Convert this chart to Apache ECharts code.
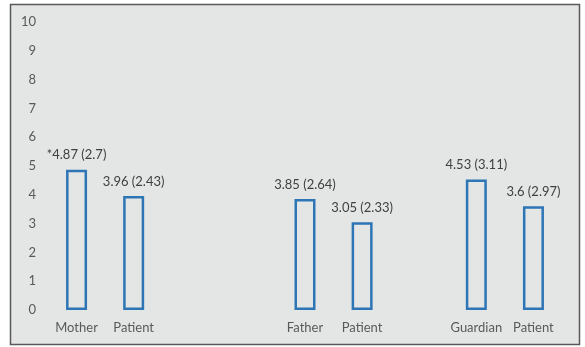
<!DOCTYPE html>
<html><head><meta charset="utf-8">
<script src="https://cdn.jsdelivr.net/npm/echarts@6/dist/echarts.min.js"></script>
<style>html,body{margin:0;padding:0;background:#fff}#c{width:585px;height:347px}</style>
</head><body><div id="c"></div>
<script>
var categories = ['Mother','Patient','','','Father','Patient','','Guardian','Patient'];
var means = [4.87, 3.96, null, null, 3.85, 3.05, null, 4.53, 3.6];
var sds = [2.7, 2.43, null, null, 2.64, 2.33, null, 3.11, 2.97];
var marks = ['*', '', '', '', '', '', '', '', ''];
var yTicks = [0,1,2,3,4,5,6,7,8,9,10];

var data = means.map(function(v){ return v === null ? '-' : v; });
var chart = echarts.init(document.getElementById('c'), null, {renderer:'canvas'});
var font = 'Lato, "Open Sans", sans-serif';
chart.setOption({
  animation: false,
  backgroundColor: '#ffffff',
  graphic: [{
    type: 'rect', z: -10, silent: true,
    shape: {x: 10.5, y: 4.5, width: 569, height: 340},
    style: {fill: '#e4e6e5', stroke: '#595959', lineWidth: 1.5}
  }],
  grid: {left: 48, right: 23, top: 22, bottom: 37, containLabel: false},
  xAxis: {
    type: 'category', data: categories,
    axisLine: {show: false}, axisTick: {show: false},
    axisLabel: {color: '#595959', fontSize: 13, fontFamily: font, margin: 11, interval: 0}
  },
  yAxis: {
    type: 'value', min: yTicks[0], max: yTicks[yTicks.length-1], interval: 1,
    axisLine: {show: false}, axisTick: {show: false}, splitLine: {show: false},
    axisLabel: {color: '#595959', fontSize: 13, fontFamily: font, margin: 12}
  },
  series: [{
    type: 'bar', data: data, barWidth: 21,
    itemStyle: {color: 'rgba(0,0,0,0)', borderColor: '#2e75b6', borderWidth: 2.5},
    label: {
      show: true, position: 'top', distance: 8,
      color: '#404040', fontSize: 13, fontFamily: font,
      formatter: function(p){ var i = p.dataIndex; return marks[i] + means[i] + ' (' + sds[i] + ')'; }
    }
  }]
});
</script></body></html>
